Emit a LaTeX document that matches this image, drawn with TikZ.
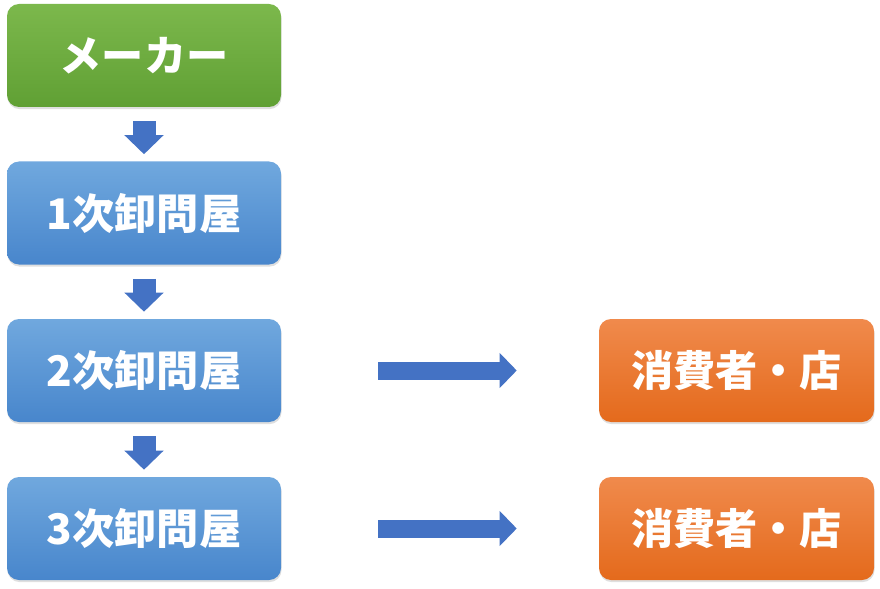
\documentclass[tikz,border=0pt]{standalone}
\usepackage{fontspec}
\usetikzlibrary{arrows.meta, shadows}
\newfontfamily\jpfont{Noto Sans CJK JP}
\definecolor{arrowblue}{HTML}{4472C4}
\tikzset{
    box/.style={rectangle, rounded corners=0.3cm, minimum width=6.85cm, minimum height=2.575cm,
        text=white, font=\jpfont\bfseries\fontsize{30}{36}\selectfont, inner sep=0pt,
        drop shadow={shadow xshift=0.4pt, shadow yshift=-1.5pt, opacity=0.25}},
    greenbox/.style={box, top color={rgb,255:red,124;green,184;blue,76}, bottom color={rgb,255:red,96;green,160;blue,52}},
    bluebox/.style={box, top color={rgb,255:red,112;green,168;blue,222}, bottom color={rgb,255:red,72;green,134;blue,204}},
    orangebox/.style={box, minimum width=6.875cm, top color={rgb,255:red,240;green,138;blue,76}, bottom color={rgb,255:red,228;green,106;blue,28}},
    downarrow/.style={arrowblue, line width=0.575cm, -{Triangle[width=0.95cm, length=0.475cm]}},
    rightarrow/.style={arrowblue, line width=0.45cm, -{Triangle[width=0.85cm, length=0.425cm]}}
}
\begin{document}
\begin{tikzpicture}
    \useasboundingbox (0,0) rectangle (22,-14.725);
    \node[greenbox] (maker) at (3.6,-1.3875) {メーカー};
    \node[bluebox] (first) at (3.6,-5.325) {1次卸問屋};
    \node[bluebox] (second) at (3.6,-9.2625) {2次卸問屋};
    \node[bluebox] (third) at (3.6,-13.2125) {3次卸問屋};
    \node[orangebox] (shopa) at (18.4125,-9.2625) {消費者・店};
    \node[orangebox] (shopb) at (18.4125,-13.2125) {消費者・店};
    \draw[downarrow, shorten <=0.35cm, shorten >=0.175cm] (maker) -- (first);
    \draw[downarrow, shorten <=0.35cm, shorten >=0.175cm] (first) -- (second);
    \draw[downarrow, shorten <=0.35cm, shorten >=0.175cm] (second) -- (third);
    \draw[rightarrow, shorten <=2.425cm, shorten >=2.05cm] (second) -- (shopa);
    \draw[rightarrow, shorten <=2.425cm, shorten >=2.05cm] (third) -- (shopb);
\end{tikzpicture}
\end{document}
